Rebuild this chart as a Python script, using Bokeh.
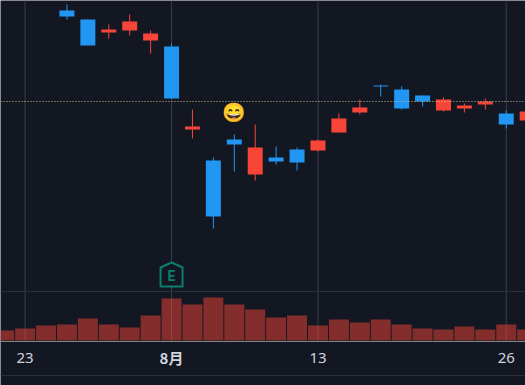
from bokeh.plotting import figure
from bokeh.models import Range1d, LinearAxis, FixedTicker, Span, ColumnDataSource
from bokeh.core.properties import value
from bokeh.embed import file_html
from bokeh.resources import INLINE

idx   = [2, 3, 4, 5, 6, 7, 8, 9, 10, 11, 12, 13, 14, 15, 16, 17, 18, 19, 20, 21, 22, 23, 24]
open_ = [375, 366, 356, 364, 352, 339, 259, 225, 246, 238, 228, 236, 245, 267, 278, 300, 296, 290, 286, 280, 284, 272, 274]
close = [369, 340, 353, 355, 345, 287, 256, 169, 241, 211, 224, 223, 235, 253, 273, 299, 277, 284, 275, 277, 281, 261, 265]
high  = [381, 366, 361, 371, 355, 342, 276, 228, 251, 261, 239, 238, 246, 272, 286, 301, 299, 290, 288, 282, 287, 275, 276]
low   = [366, 340, 347, 350, 332, 287, 247, 157, 214, 205, 221, 215, 234, 253, 271, 289, 276, 279, 274, 273, 276, 257, 263]
rising = [False, False, True, True, True, False, True, False, False, True, False, False, True, True, True, False, False, False, True, True, True, False, True]

vol_idx = list(range(-1, 25))
volume  = [10, 12, 15, 16, 22, 16, 13, 25, 42, 36, 43, 36, 31, 23, 25, 15, 21, 18, 21, 16, 12, 11, 14, 11, 16, 11]

tick_pos = [0, 14, 23]
tick_txt = ["23", "13", "26"]
month_pos = [7]
month_txt = ["8月"]
last_price = 284
earnings_idx = 7
earnings_y = 111
emoji_idx = 10
emoji_y = 273

BG = "#131722"
BLUE = "#2196F3"
RED = "#F94438"
GRID = "#3A3E4B"
TEAL = "#0B7F6E"

p = figure(width=525, height=385, output_backend="svg", toolbar_location=None,
           x_range=Range1d(-24.6 / 20.92, (525 - 24.6) / 20.92), y_range=Range1d(0, 385),
           x_axis_type=None, y_axis_type=None, min_border=0, background_fill_color=BG,
           border_fill_color=BG, outline_line_color=None)
p.xgrid.visible = False
p.ygrid.visible = False
p.extra_y_ranges = {"vol": Range1d(-45, 340)}

p.segment(x0=tick_pos + month_pos, x1=tick_pos + month_pos, y0=[45] * 4, y1=[385] * 4,
          line_color=GRID, line_width=1)
p.add_layout(Span(location=94, dimension="width", line_color="#2A2E39", line_width=1))
p.add_layout(Span(location=10, dimension="width", line_color="#2A2E39", line_width=1))

p.vbar(x=vol_idx, top=volume, bottom=0, width=0.956, y_range_name="vol",
       fill_color="#F44336", fill_alpha=0.5, line_color=None)

colors = [RED if r else BLUE for r in rising]
src = ColumnDataSource(dict(x=idx, o=open_, c=close, h=high, l=low, col=colors))
p.segment(x0="x", x1="x", y0="l", y1="h", line_color="col", line_width=1, source=src)
p.vbar(x="x", top="o", bottom="c", width=0.717, fill_color="col", line_color=None, source=src)

p.add_layout(Span(location=last_price, dimension="width", line_color="#C4C48E",
                  line_width=1, line_dash="1 2"))

p.text(x=[emoji_idx], y=[emoji_y], text=["😄"], text_font_size="19px",
       text_align="center", text_baseline="middle", text_font=value("Noto Color Emoji"))

hw, top, shoulder, bot = 11 / 20.92, 12, 7, -12
p.patch(x=[earnings_idx - hw, earnings_idx, earnings_idx + hw, earnings_idx + hw, earnings_idx - hw],
        y=[earnings_y + shoulder, earnings_y + top, earnings_y + shoulder, earnings_y + bot, earnings_y + bot],
        fill_color=BG, line_color=TEAL, line_width=2, line_join="round")
p.text(x=[earnings_idx], y=[earnings_y - 1], text=["E"], text_color=TEAL, text_font_size="14px",
       text_font_style="bold", text_align="center", text_baseline="middle",
       text_font=value("Roboto"))

for pos, txt, style, font, size, standoff in ((tick_pos, tick_txt, "normal", "Noto Sans", "15px", 12),
                                              (month_pos, month_txt, "bold", "Noto Sans CJK JP", "15px", 6)):
    ax = LinearAxis(ticker=FixedTicker(ticks=pos),
                    major_label_overrides=dict(zip(pos, txt)),
                    fixed_location=44.5, axis_line_color="#808490", axis_line_width=1,
                    major_tick_line_color=None, minor_tick_line_color=None,
                    major_tick_in=0, major_tick_out=0, minor_tick_out=0,
                    major_label_standoff=standoff, major_label_text_color="#D1D4DC",
                    major_label_text_font_size=size, major_label_text_font=font,
                    major_label_text_font_style=style)
    p.add_layout(ax, "below")

open("out.html", "w").write(file_html(p, INLINE))
